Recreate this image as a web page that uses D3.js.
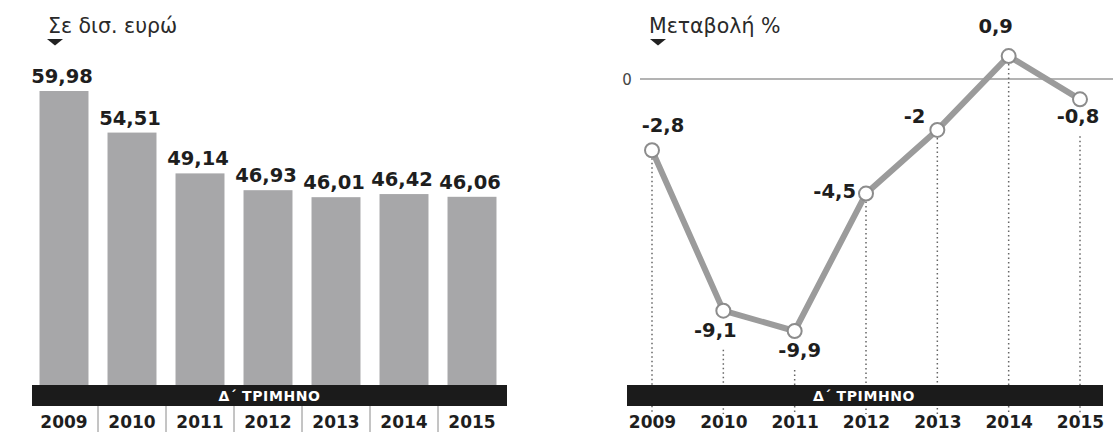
<!DOCTYPE html>
<html>
<head>
<meta charset="utf-8">
<script src="https://cdn.jsdelivr.net/npm/d3@7"></script>
<style>
  html, body { margin: 0; padding: 0; background: #fff; }
  svg { display: block; font-family: "DejaVu Sans", Verdana, sans-serif; }
</style>
</head>
<body>
<svg id="chart" width="1120" height="432"></svg>
<script>
// ---- Data ----
const years = ["2009", "2010", "2011", "2012", "2013", "2014", "2015"];
const amounts = [59.98, 54.51, 49.14, 46.93, 46.01, 46.42, 46.06];      // Σε δισ. ευρώ
const changes = [-2.8, -9.1, -9.9, -4.5, -2, 0.9, -0.8];                 // Μεταβολή %
const leftTitle = "Σε δισ. ευρώ";
const rightTitle = "Μεταβολή %";
const bandLabel = "Δ΄ ΤΡΙΜΗΝΟ";
const zeroTick = [0];

const fmt = v => String(v).replace(".", ",");
const fmt2 = v => v.toFixed(2).replace(".", ",");

const svg = d3.select("#chart");
const textColor = "#1e1e1e";

// ================= LEFT: bars =================
const xL = d3.scaleBand().domain(years).range([30, 506]).paddingInner(0.28).paddingOuter(0.14);
const yL = d3.scaleLinear().domain([21.3, 59.98]).range([385, 91]);

const gL = svg.append("g");
gL.append("text").attr("x", 48).attr("y", 33)
  .attr("font-size", 20.5).attr("fill", "#2a2a2a").text(leftTitle);
gL.append("path").attr("d", "M47,39 L63,39 L55,45.5 Z").attr("fill", "#222");

gL.selectAll("rect.bar").data(amounts).join("rect")
  .attr("class", "bar")
  .attr("x", (d, i) => xL(years[i]))
  .attr("width", xL.bandwidth())
  .attr("y", d => yL(d))
  .attr("height", d => yL.range()[0] - yL(d))
  .attr("fill", "#a7a7a9");

gL.selectAll("text.val").data(amounts).join("text")
  .attr("class", "val")
  .attr("x", (d, i) => xL(years[i]) + xL.bandwidth() / 2 - 2)
  .attr("y", d => yL(d) - 8)
  .attr("text-anchor", "middle")
  .attr("font-size", 19.5).attr("font-weight", "bold").attr("fill", textColor)
  .text(fmt2);

// band
gL.append("rect").attr("x", 32).attr("y", 385).attr("width", 475).attr("height", 21).attr("fill", "#1b1b1b");
gL.append("text").attr("x", 269.5).attr("y", 401).attr("text-anchor", "middle")
  .attr("font-size", 14).attr("font-weight", "bold").attr("letter-spacing", 0.6)
  .attr("fill", "#fff").text(bandLabel);

// year separators
gL.selectAll("line.sep").data(years.slice(1)).join("line")
  .attr("class", "sep")
  .attr("x1", d => xL(d) - xL.step() * xL.paddingInner() / 2)
  .attr("x2", d => xL(d) - xL.step() * xL.paddingInner() / 2)
  .attr("y1", 406).attr("y2", 432)
  .attr("stroke", "#8a8a8a").attr("stroke-width", 1);

const axL = d3.axisBottom(xL).tickSize(0).tickPadding(0);
const axLg = gL.append("g").attr("transform", "translate(0,416)").call(axL);
axLg.select(".domain").remove();
axLg.selectAll("text").attr("font-size", 17).attr("font-weight", "bold")
  .attr("fill", textColor).attr("font-family", "DejaVu Sans, sans-serif").attr("dy", "0.72em");

// ================= RIGHT: line =================
const xR = d3.scalePoint().domain(years).range([652, 1080]);
const yR = d3.scaleLinear().domain([-9.9, 0]).range([331, 79]);

const gR = svg.append("g");
gR.append("text").attr("x", 649).attr("y", 33)
  .attr("font-size", 20.5).attr("fill", "#2a2a2a").text(rightTitle);
gR.append("path").attr("d", "M650,39 L666,39 L658,45.5 Z").attr("fill", "#222");

// zero line
gR.selectAll("line.zero").data(zeroTick).join("line")
  .attr("class", "zero")
  .attr("x1", 640).attr("x2", 1113)
  .attr("y1", d => yR(d)).attr("y2", d => yR(d))
  .attr("stroke", "#9a9a9a").attr("stroke-width", 1.5);
gR.selectAll("text.zero").data(zeroTick).join("text")
  .attr("class", "zero")
  .attr("x", 627).attr("y", d => yR(d) + 5.5).attr("text-anchor", "middle")
  .attr("font-size", 15).attr("fill", "#444").text(d => d);

// label placement (offsets relative to the point)
const labelPos = [
  {dx: 11, dy: -18, anchor: "middle", below: false},
  {dx: -8, dy: 26, anchor: "middle", below: true},
  {dx: 5, dy: 26, anchor: "middle", below: true},
  {dx: -10, dy: 4, anchor: "end", below: false},
  {dx: -12, dy: -7, anchor: "end", below: false},
  {dx: -13, dy: -23, anchor: "middle", below: false},
  {dx: -2, dy: 24, anchor: "middle", below: true}
];

// dotted drop lines
gR.selectAll("line.drop").data(changes).join("line")
  .attr("class", "drop")
  .attr("x1", (d, i) => xR(years[i])).attr("x2", (d, i) => xR(years[i]))
  .attr("y1", (d, i) => labelPos[i].below ? yR(d) + labelPos[i].dy + 13 : yR(d) + 8)
  .attr("y2", 414)
  .attr("stroke", "#666").attr("stroke-width", 1.5)
  .attr("stroke-dasharray", "1.5,3");

// band
gR.append("rect").attr("x", 627).attr("y", 385).attr("width", 476).attr("height", 21).attr("fill", "#1b1b1b");
gR.append("text").attr("x", 864).attr("y", 401).attr("text-anchor", "middle")
  .attr("font-size", 14).attr("font-weight", "bold").attr("letter-spacing", 0.6)
  .attr("fill", "#fff").text(bandLabel);

const line = d3.line().x((d, i) => xR(years[i])).y(d => yR(d));
gR.append("path").datum(changes).attr("d", line)
  .attr("fill", "none").attr("stroke", "#9b9b9b").attr("stroke-width", 6)
  .attr("stroke-linejoin", "round");

gR.selectAll("circle.pt").data(changes).join("circle")
  .attr("class", "pt")
  .attr("cx", (d, i) => xR(years[i])).attr("cy", d => yR(d))
  .attr("r", 7).attr("fill", "#fff").attr("stroke", "#8c8c8c").attr("stroke-width", 2);

gR.selectAll("text.val").data(changes).join("text")
  .attr("class", "val")
  .attr("x", (d, i) => xR(years[i]) + labelPos[i].dx)
  .attr("y", (d, i) => yR(d) + labelPos[i].dy)
  .attr("text-anchor", (d, i) => labelPos[i].anchor)
  .attr("font-size", 19.5).attr("font-weight", "bold").attr("fill", textColor)
  .text(fmt);

const axR = d3.axisBottom(xR).tickSize(0).tickPadding(0);
const axRg = gR.append("g").attr("transform", "translate(0,416)").call(axR);
axRg.select(".domain").remove();
axRg.selectAll("text").attr("font-size", 17).attr("font-weight", "bold")
  .attr("fill", textColor).attr("font-family", "DejaVu Sans, sans-serif").attr("dy", "0.72em");
</script>
</body>
</html>
